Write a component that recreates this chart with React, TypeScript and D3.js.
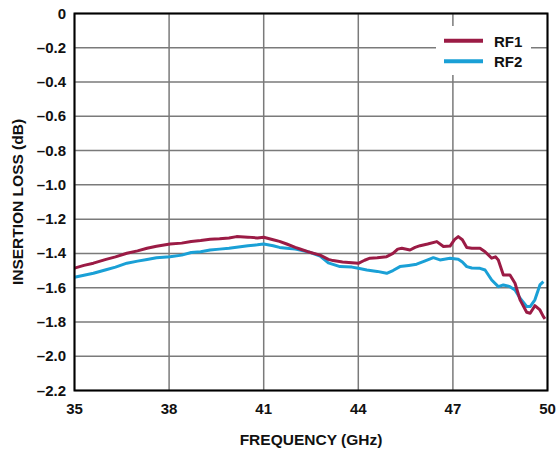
import React from "react";
import * as d3 from "d3";

const xTicks = [35, 38, 41, 44, 47, 50];
const yTicks = [0, -0.2, -0.4, -0.6, -0.8, -1.0, -1.2, -1.4, -1.6, -1.8, -2.0, -2.2];

const rf1Freq = [35.0, 35.3, 35.6, 36.0, 36.3, 36.66, 37.0, 37.3, 37.6, 38.03, 38.4, 38.7, 39.0, 39.3, 39.6, 39.9, 40.14, 40.5, 40.8, 41.0, 41.3, 41.5, 41.73, 42.0, 42.15, 42.4, 42.79, 43.05, 43.2, 43.5, 43.8, 44.0, 44.2, 44.37, 44.6, 44.9, 45.1, 45.25, 45.38, 45.64, 45.8, 45.96, 46.2, 46.49, 46.7, 46.91, 47.05, 47.17, 47.3, 47.44, 47.6, 47.86, 48.02, 48.23, 48.35, 48.44, 48.6, 48.81, 48.97, 49.13, 49.34, 49.45, 49.6, 49.76, 49.87, 49.92];
const rf1Loss = [-1.486, -1.47, -1.457, -1.435, -1.42, -1.399, -1.385, -1.37, -1.358, -1.345, -1.34, -1.33, -1.325, -1.318, -1.315, -1.31, -1.302, -1.305, -1.31, -1.306, -1.32, -1.33, -1.345, -1.365, -1.374, -1.39, -1.41, -1.435, -1.442, -1.45, -1.455, -1.458, -1.44, -1.428, -1.425, -1.419, -1.40, -1.375, -1.37, -1.38, -1.365, -1.355, -1.345, -1.331, -1.36, -1.357, -1.32, -1.302, -1.32, -1.365, -1.37, -1.37, -1.39, -1.428, -1.42, -1.438, -1.526, -1.526, -1.574, -1.671, -1.743, -1.749, -1.705, -1.73, -1.769, -1.782];

const rf2Freq = [35.0, 35.3, 35.6, 36.0, 36.3, 36.66, 37.0, 37.3, 37.6, 38.03, 38.4, 38.7, 39.0, 39.3, 39.6, 39.9, 40.14, 40.5, 40.8, 41.0, 41.3, 41.5, 41.73, 42.0, 42.15, 42.4, 42.79, 43.05, 43.42, 43.8, 44.0, 44.27, 44.6, 44.9, 45.1, 45.32, 45.6, 45.85, 46.1, 46.38, 46.59, 46.91, 47.17, 47.3, 47.44, 47.6, 47.86, 48.02, 48.23, 48.44, 48.6, 48.81, 48.97, 49.13, 49.34, 49.45, 49.6, 49.76, 49.87];
const rf2Loss = [-1.539, -1.527, -1.516, -1.495, -1.48, -1.457, -1.445, -1.435, -1.425, -1.419, -1.41, -1.395, -1.39, -1.38, -1.375, -1.37, -1.364, -1.355, -1.35, -1.345, -1.355, -1.365, -1.37, -1.375, -1.38, -1.39, -1.415, -1.455, -1.477, -1.48, -1.487, -1.497, -1.505, -1.516, -1.50, -1.477, -1.47, -1.463, -1.445, -1.425, -1.438, -1.428, -1.434, -1.45, -1.477, -1.485, -1.487, -1.497, -1.555, -1.594, -1.584, -1.594, -1.613, -1.662, -1.71, -1.71, -1.671, -1.584, -1.565];

const seriesNames = ["RF1", "RF2"];
const colors = ["#9b1b45", "#1aa0d6"];

const W = 557, H = 449;
const L = 74.5, R = 547.5, T = 13.5, B = 390.5;

export default function App() {
  const x = d3.scaleLinear().domain([35, 50]).range([L, R]);
  const y = d3.scaleLinear().domain([0, -2.2]).range([T, B]);
  const line = d3.line<[number, number]>().x(d => x(d[0])).y(d => y(d[1]));
  const rf1 = rf1Freq.map((f, i) => [f, rf1Loss[i]] as [number, number]);
  const rf2 = rf2Freq.map((f, i) => [f, rf2Loss[i]] as [number, number]);
  const font = "'Liberation Sans', Arial, sans-serif";
  const fmt = (v: number) => (v === 0 ? "0" : "\u2013" + Math.abs(v).toFixed(1));
  return (
    <svg width={W} height={H} style={{ position: "absolute", left: 0, top: 0, background: "#fff" }}>
      <rect x={0} y={0} width={W} height={H} fill="#fff" />
      {yTicks.map(v => (
        <line key={"gy" + v} x1={L} x2={R} y1={y(v)} y2={y(v)} stroke="#7a7a7a" strokeWidth={1.5} />
      ))}
      {xTicks.map(v => (
        <line key={"gx" + v} x1={x(v)} x2={x(v)} y1={T} y2={B} stroke="#7a7a7a" strokeWidth={1.5} />
      ))}
      <rect x={436} y={26} width={95} height={49} fill="#fff" />
      <path d={line(rf2) || ""} fill="none" stroke={colors[1]} strokeWidth={3} strokeLinejoin="round" />
      <path d={line(rf1) || ""} fill="none" stroke={colors[0]} strokeWidth={3} strokeLinejoin="round" />
      <rect x={L} y={T} width={R - L} height={B - T} fill="none" stroke="#000" strokeWidth={2} />
      {seriesNames.map((n, i) => (
        <g key={n}>
          <line x1={444} x2={483} y1={40.7 + i * 20.6} y2={40.7 + i * 20.6} stroke={colors[i]} strokeWidth={4} />
          <text x={494} y={46.5 + i * 20.6} fontFamily={font} fontWeight="bold" fontSize={15} fill="#111">{n}</text>
        </g>
      ))}
      {yTicks.map(v => (
        <text key={"ty" + v} x={66} y={y(v) + 5} textAnchor="end" fontFamily={font} fontWeight="bold" fontSize={15} fill="#111">{fmt(v)}</text>
      ))}
      {xTicks.map(v => (
        <text key={"tx" + v} x={x(v)} y={414} textAnchor="middle" fontFamily={font} fontWeight="bold" fontSize={15} fill="#111">{v}</text>
      ))}
      <text x={(L + R) / 2} y={444.5} textAnchor="middle" fontFamily={font} fontWeight="bold" fontSize={15.5} fill="#111">FREQUENCY (GHz)</text>
      <text transform={`translate(23, ${(T + B) / 2}) rotate(-90)`} textAnchor="middle" fontFamily={font} fontWeight="bold" fontSize={15.5} fill="#111">INSERTION LOSS (dB)</text>
    </svg>
  );
}
